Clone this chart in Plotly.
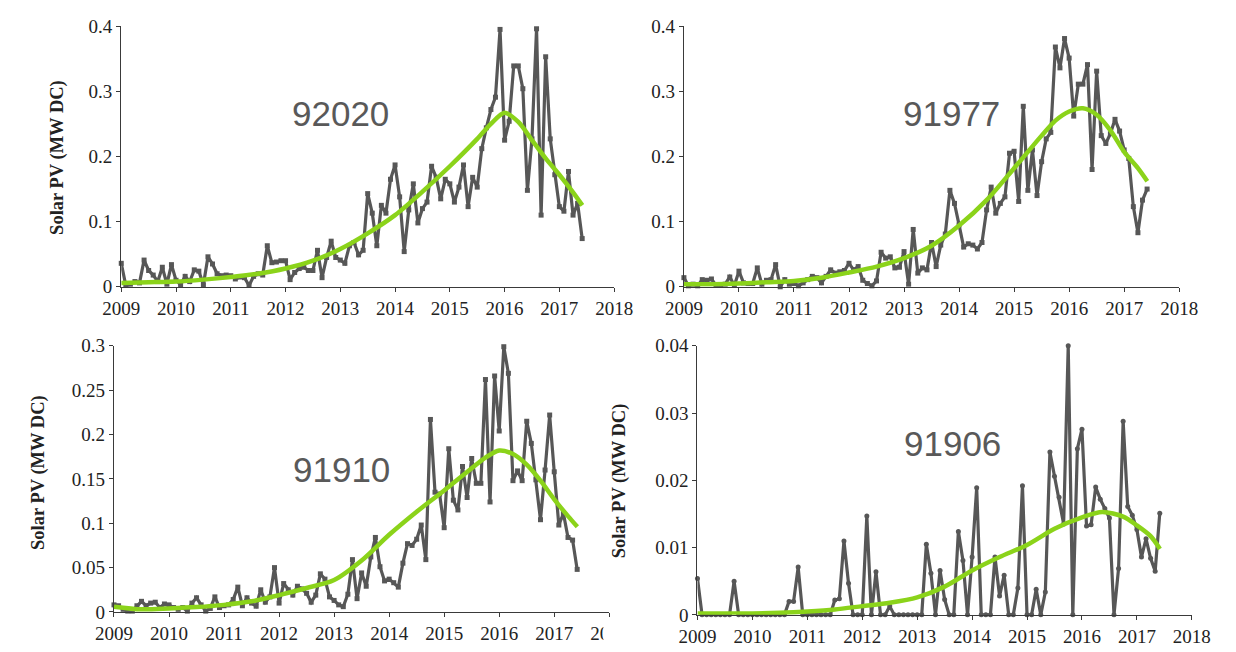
import plotly.graph_objects as go

W, H = 1236, 652

# ---------------- data (monthly, Jan 2009 .. Jun 2017) ----------------
start_year = 2009
n_months = 102

pv_92020 = [
    0.036, 0.002, 0.004, 0.008, 0.006, 0.041, 0.025, 0.018, 0.008, 0.030, 0.004, 0.034,
    0.010, 0.003, 0.016, 0.008, 0.026, 0.024, 0.003, 0.046, 0.035, 0.020, 0.017, 0.018,
    0.017, 0.012, 0.015, 0.014, 0.002, 0.016, 0.020, 0.018, 0.063, 0.037, 0.038, 0.040,
    0.040, 0.011, 0.022, 0.028, 0.030, 0.025, 0.025, 0.056, 0.014, 0.045, 0.070, 0.045,
    0.041, 0.036, 0.063, 0.068, 0.049, 0.056, 0.143, 0.113, 0.063, 0.125, 0.113, 0.165,
    0.187, 0.138, 0.054, 0.118, 0.158, 0.098, 0.120, 0.130, 0.185, 0.168, 0.135, 0.165,
    0.158, 0.130, 0.153, 0.187, 0.123, 0.168, 0.153, 0.212, 0.244, 0.272, 0.291, 0.395,
    0.225, 0.254, 0.339, 0.339, 0.304, 0.148, 0.227, 0.396, 0.110, 0.353, 0.227, 0.172,
    0.123, 0.116, 0.177, 0.110, 0.128, 0.074,
]
pv_91977 = [
    0.014, 0.0015, 0.004, 0.0015, 0.011, 0.010, 0.012, 0.002, 0.003, 0.004, 0.015, 0.002,
    0.024, 0.006, 0.005, 0.005, 0.029, 0.004, 0.010, 0.011, 0.034, 0.000, 0.011, 0.004,
    0.005, 0.0015, 0.006, 0.011, 0.016, 0.014, 0.006, 0.016, 0.026, 0.021, 0.023, 0.025,
    0.036, 0.026, 0.031, 0.010, 0.005, 0.0015, 0.009, 0.053, 0.044, 0.046, 0.029, 0.030,
    0.054, 0.004, 0.088, 0.021, 0.029, 0.026, 0.068, 0.031, 0.064, 0.081, 0.148, 0.128,
    0.095, 0.061, 0.066, 0.064, 0.058, 0.068, 0.118, 0.153, 0.113, 0.128, 0.138, 0.205,
    0.208, 0.131, 0.277, 0.148, 0.210, 0.140, 0.192, 0.227, 0.237, 0.368, 0.336, 0.381,
    0.351, 0.262, 0.311, 0.311, 0.341, 0.180, 0.331, 0.232, 0.220, 0.235, 0.257, 0.239,
    0.210, 0.197, 0.123, 0.083, 0.133, 0.150,
]
pv_91910 = [
    0.008, 0.007, 0.003, 0.001, 0.001, 0.007, 0.012, 0.007, 0.010, 0.011, 0.005, 0.009,
    0.008, 0.005, 0.003, 0.005, 0.001, 0.010, 0.016, 0.008, 0.001, 0.004, 0.017, 0.005,
    0.007, 0.008, 0.014, 0.028, 0.007, 0.016, 0.010, 0.0065, 0.025, 0.011, 0.017, 0.050,
    0.010, 0.032, 0.025, 0.019, 0.029, 0.026, 0.021, 0.011, 0.019, 0.043, 0.037, 0.017,
    0.013, 0.008, 0.006, 0.020, 0.059, 0.015, 0.044, 0.029, 0.062, 0.084, 0.051, 0.035,
    0.037, 0.033, 0.028, 0.055, 0.077, 0.075, 0.082, 0.098, 0.059, 0.217, 0.135, 0.133,
    0.095, 0.184, 0.126, 0.115, 0.164, 0.129, 0.173, 0.145, 0.145, 0.262, 0.124, 0.266,
    0.204, 0.299, 0.269, 0.148, 0.159, 0.148, 0.215, 0.190, 0.149, 0.104, 0.160, 0.222,
    0.158, 0.098, 0.111, 0.084, 0.081, 0.048,
]
pv_91906 = [
    0.0054, 0, 0, 0, 0, 0, 0, 0, 0.005, 0, 0, 0,
    0, 0, 0, 0, 0, 0, 0, 0, 0.002, 0.002, 0.0071, 0,
    0, 0, 0, 0, 0, 0, 0.0022, 0.0024, 0.011, 0.0047, 0, 0,
    0, 0.0147, 0, 0.0064, 0, 0, 0.0013, 0, 0, 0, 0, 0,
    0, 0, 0.0105, 0.0062, 0, 0.0066, 0.0023, 0, 0, 0.0124, 0.0081, 0,
    0.0086, 0.0189, 0, 0, 0, 0.0086, 0.0028, 0.0059, 0, 0, 0.004, 0.0192,
    0, 0, 0.0038, 0, 0.0034, 0.0242, 0.0206, 0.0175, 0.0135, 0.04, 0, 0.0247,
    0.0276, 0.0132, 0.0134, 0.019, 0.0172, 0.0158, 0.0144, 0, 0.0069, 0.0288, 0.0161, 0.0148,
    0.0127, 0.0086, 0.0113, 0.0084, 0.0065, 0.0151,
]

# smooth fitted curves (read at selected dates)
fit_x_92020 = [2009, 2009.5, 2010, 2010.5, 2011, 2011.5, 2012, 2012.5, 2013, 2013.5, 2014, 2014.5,
               2015, 2015.5, 2015.75, 2016, 2016.25, 2016.5, 2016.75, 2017, 2017.25, 2017.42]
fit_y_92020 = [0.006, 0.007, 0.008, 0.011, 0.015, 0.020, 0.028, 0.040, 0.058, 0.082, 0.110, 0.146,
               0.185, 0.227, 0.250, 0.267, 0.253, 0.225, 0.197, 0.172, 0.145, 0.125]
fit_x_91977 = [2009, 2009.5, 2010, 2010.5, 2011, 2011.5, 2012, 2012.5, 2013, 2013.5, 2014, 2014.5,
               2015, 2015.5, 2015.75, 2016, 2016.25, 2016.5, 2016.75, 2017, 2017.25, 2017.42]
fit_y_91977 = [0.004, 0.004, 0.005, 0.007, 0.009, 0.014, 0.022, 0.031, 0.044, 0.063, 0.094, 0.133,
               0.182, 0.232, 0.255, 0.269, 0.274, 0.264, 0.240, 0.207, 0.182, 0.162]
fit_x_91910 = [2009, 2009.5, 2010, 2010.5, 2011, 2011.5, 2012, 2012.5, 2013, 2013.5, 2014, 2014.5,
               2015, 2015.5, 2015.75, 2016, 2016.25, 2016.5, 2016.75, 2017, 2017.25, 2017.42]
fit_y_91910 = [0.006, 0.003, 0.004, 0.0055, 0.008, 0.012, 0.019, 0.027, 0.036, 0.058, 0.087, 0.113,
               0.137, 0.162, 0.174, 0.182, 0.178, 0.166, 0.148, 0.127, 0.108, 0.096]
fit_x_91906 = [2009, 2009.5, 2010, 2010.5, 2011, 2011.5, 2012, 2012.5, 2013, 2013.5, 2014, 2014.5,
               2015, 2015.5, 2016, 2016.37, 2016.75, 2017, 2017.25, 2017.42]
fit_y_91906 = [0.0002, 0.0002, 0.0002, 0.0003, 0.0005, 0.0008, 0.0013, 0.0018, 0.0026, 0.0042, 0.0066, 0.0086,
               0.0104, 0.0128, 0.0145, 0.0153, 0.0146, 0.0133, 0.0117, 0.0098]

zip_labels = ["92020", "91977", "91910", "91906"]
year_ticks = list(range(2009, 2019))
y_max = [0.4, 0.4, 0.3, 0.04]
y_step = [0.1, 0.1, 0.05, 0.01]

months = [start_year + i / 12 for i in range(n_months)]
series = [pv_92020, pv_91977, pv_91910, pv_91906]
fits = [(fit_x_92020, fit_y_92020), (fit_x_91977, fit_y_91977),
        (fit_x_91910, fit_y_91910), (fit_x_91906, fit_y_91906)]

# ---------------- layout geometry (pixels) ----------------
# (x_left, x_right, y_bottom, y_top)
boxes = [
    (105.5, 614, 286, 16.7),
    (686, 1197, 286, 16.7),
    (98, 609, 622, 347),
    (700, 1210, 625, 347),
]
label_pos = [(332, 107), (962, 107), (333, 475), (963, 448)]
ytitle_pos = [(39, 152), None, (20, 478), (619, 486)]

GRAY = "#575757"
GREEN = "#8bd31a"
AX = "#3a3a3a"
SERIF = "Liberation Serif, Times New Roman, serif"

fig = go.Figure()
layout_axes = {}
for k in range(4):
    sfx = "" if k == 0 else str(k + 1)
    xa, ya = "x" + sfx, "y" + sfx
    fig.add_trace(go.Scatter(
        x=months, y=series[k], xaxis=xa, yaxis=ya, mode="lines+markers",
        line=dict(color=GRAY, width=3.2),
        marker=dict(symbol="circle" if k == 3 else "square", size=5, color=GRAY),
        cliponaxis=False, showlegend=False, hoverinfo="skip"))
    fig.add_trace(go.Scatter(
        x=fits[k][0], y=fits[k][1], xaxis=xa, yaxis=ya, mode="lines",
        line=dict(color=GREEN, width=4.5, shape="spline", smoothing=0.8),
        cliponaxis=False, showlegend=False, hoverinfo="skip"))
    x0, x1, yb, yt = boxes[k]
    common = dict(showline=True, linecolor=AX, linewidth=1.3, ticks="outside", ticklen=4,
                  tickwidth=1.2, tickcolor=AX, showgrid=False, zeroline=False,
                  tickfont=dict(family=SERIF, size=19, color="#222"))
    layout_axes["xaxis" + sfx] = dict(
        domain=[x0 / W, x1 / W], range=[2009, 2018], tickmode="array",
        tickvals=year_ticks, ticktext=[str(t) for t in year_ticks],
        anchor=ya, **common)
    layout_axes["yaxis" + sfx] = dict(
        domain=[1 - yb / H, 1 - yt / H], range=[0, y_max[k]], tick0=0, dtick=y_step[k],
        anchor=xa, **common)

annotations = []
for k in range(4):
    lx, ly = label_pos[k]
    annotations.append(dict(
        x=lx / W, y=1 - ly / H, xref="paper", yref="paper", text=zip_labels[k],
        showarrow=False, xanchor="center", yanchor="middle",
        font=dict(family="Liberation Sans, Arial, sans-serif", size=35, color="#595959")))
    if ytitle_pos[k] is not None:
        tx, ty = ytitle_pos[k]
        annotations.append(dict(
            x=tx / W, y=1 - ty / H, xref="paper", yref="paper",
            text="<b>Solar PV (MW DC)</b>", textangle=-90, showarrow=False,
            xanchor="center", yanchor="middle",
            font=dict(family=SERIF, size=18.5, color="#222")))

fig.update_layout(
    width=W, height=H, margin=dict(l=0, r=0, t=0, b=0),
    paper_bgcolor="white", plot_bgcolor="white",
    annotations=annotations,
    shapes=[dict(type="rect", xref="paper", yref="paper",
                 x0=603 / W, x1=645 / W, y0=0, y1=1 - 628 / H,
                 fillcolor="white", line=dict(width=0), layer="above")],
    **layout_axes)

fig.write_html("out.html")
